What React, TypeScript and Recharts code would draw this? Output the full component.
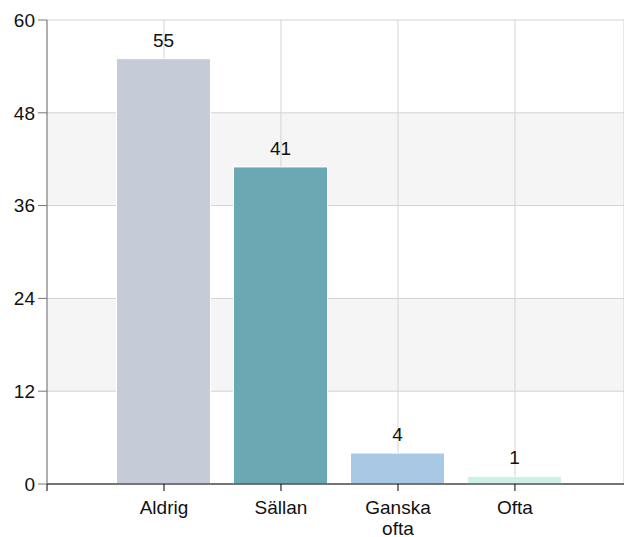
import { BarChart, Bar, XAxis, YAxis, CartesianGrid, LabelList, Cell } from 'recharts';

const categories = ['Aldrig', 'Sällan', 'Ganska ofta', 'Ofta'];
const counts = [55, 41, 4, 1];
const barColors = ['#c5ccd8', '#6aa9b4', '#a8c8e4', '#cdf1e8'];
const yTicks = [0, 12, 24, 36, 48, 60];
const xTicks = [0, 1, 2, 3, 4];

const chartData = categories.map((name, i) => ({
  name,
  pos: i + 1,
  value: counts[i],
}));

const font = '"Liberation Sans", Arial, sans-serif';

const XTick = (props: any) => {
  const { x, y, payload } = props;
  const label = payload.value >= 1 ? categories[payload.value - 1] : '';
  const lines = label.split(' ');
  return (
    <text x={x} y={y} textAnchor="middle" fill="#111" fontSize={19} fontFamily={font}>
      {lines.map((l: string, i: number) => (
        <tspan key={i} x={x} dy={i === 0 ? 21 : 21}>
          {l}
        </tspan>
      ))}
    </text>
  );
};

export default function App() {
  return (
    <div style={{ position: 'absolute', left: 0, top: 0 }}>
      <BarChart
        width={624}
        height={537}
        data={chartData}
        margin={{ top: 20, right: 0, left: 0, bottom: 0 }}
      >
        <CartesianGrid
          stroke="#d3d3d3"
          horizontalFill={['#ffffff', '#f5f5f5']}
          fillOpacity={1}
        />
        <XAxis
          dataKey="pos"
          type="number"
          domain={[0, 4.932]}
          ticks={xTicks}
          allowDataOverflow
          height={53}
          tickSize={7}
          stroke="#000"
          tick={<XTick />}
        />
        <YAxis
          domain={[0, 60]}
          ticks={yTicks}
          width={47}
          tickSize={9}
          tickMargin={3}
          stroke="#777"
          tick={{ fill: '#111', fontSize: 19, fontFamily: font }}
        />
        <Bar dataKey="value" barSize={94} isAnimationActive={false} stroke="#ffffff" strokeWidth={1}>
          {chartData.map((d, i) => (
            <Cell key={d.name} fill={barColors[i]} />
          ))}
          <LabelList
            dataKey="value"
            position="top"
            offset={12}
            fill="#111"
            fontSize={19}
            fontFamily={font}
          />
        </Bar>
      </BarChart>
    </div>
  );
}
